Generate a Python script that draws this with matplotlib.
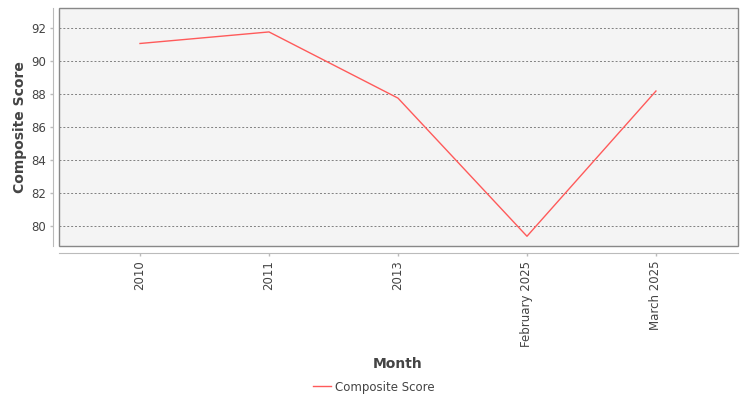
import matplotlib.pyplot as plt
from matplotlib.patches import Rectangle

months = ['2010', '2011', '2013', 'February 2025', 'March 2025']
composite_score = [91.06, 91.76, 87.75, 79.38, 88.18]
y_ticks = [80, 82, 84, 86, 88, 90, 92]

text_color = '#444444'
line_color = '#ff5a5a'

fig = plt.figure(figsize=(7.5, 4), dpi=100)
ax = fig.add_axes([59 / 750, 154 / 400, 679 / 750, 238 / 400])
ax.set_facecolor('#f4f4f4')

x = list(range(len(months)))
ax.plot(x, composite_score, color=line_color, linewidth=1, label='Composite Score')

ax.set_xlim(-0.628, len(months) - 1 + 0.636)
ax.set_ylim(78.79, 93.21)
ax.set_xticks(x)
ax.set_xticklabels(months)
ax.set_yticks(y_ticks)
ax.yaxis.grid(True, color='#808080', linestyle=(0, (2, 2)), linewidth=0.7)
ax.set_axisbelow(True)

# plot frame, and JFreeChart-style offset axis lines
for side in ['top', 'right']:
    ax.spines[side].set_visible(False)
ax.spines['left'].set_position(('outward', 4))
ax.spines['bottom'].set_position(('outward', 5))
ax.spines['left'].set_color('#bbbbbb')
ax.spines['bottom'].set_color('#bbbbbb')
ax.add_patch(Rectangle((0, 0), 1, 1, transform=ax.transAxes, fill=False,
                       edgecolor='#888888', linewidth=1, clip_on=False, zorder=5))

ax.tick_params(axis='both', colors='#bbbbbb', labelcolor=text_color,
               labelsize=8.5, length=2.5, width=1)
ax.tick_params(axis='y', pad=3)
ax.tick_params(axis='x', pad=3, labelrotation=90)

ax.set_ylabel('Composite Score', fontsize=10, fontweight='bold', color=text_color)
ax.yaxis.set_label_coords(-32 / 679, 0.5)
fig.text(398 / 750, 1 - 364 / 400, 'Month', fontsize=10, fontweight='bold',
         color=text_color, ha='center', va='center')

leg = fig.legend(loc='center', bbox_to_anchor=(374 / 750, 1 - 387 / 400), frameon=False,
                 fontsize=8.5, handlelength=1.5, handletextpad=0.4)
for t in leg.get_texts():
    t.set_color(text_color)

fig.savefig('out.png', dpi=100)
